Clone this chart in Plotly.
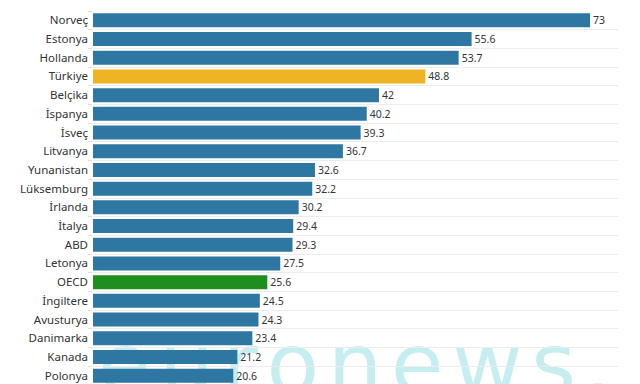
import plotly.graph_objects as go

countries = ["Norveç", "Estonya", "Hollanda", "Türkiye", "Belçika", "İspanya", "İsveç",
             "Litvanya", "Yunanistan", "Lüksemburg", "İrlanda", "İtalya", "ABD", "Letonya",
             "OECD", "İngiltere", "Avusturya", "Danimarka", "Kanada", "Polonya"]
values = [73, 55.6, 53.7, 48.8, 42, 40.2, 39.3, 36.7, 32.6, 32.2, 30.2, 29.4, 29.3, 27.5,
          25.6, 24.5, 24.3, 23.4, 21.2, 20.6]
value_labels = ["73", "55.6", "53.7", "48.8", "42", "40.2", "39.3", "36.7", "32.6", "32.2",
                "30.2", "29.4", "29.3", "27.5", "25.6", "24.5", "24.3", "23.4", "21.2", "20.6"]
watermark = "\u200a".join("euronews.")

BLUE = "#2f77a3"
YELLOW = "#f0b323"
GREEN = "#1e8f1e"
colors = [YELLOW if c == "Türkiye" else GREEN if c == "OECD" else BLUE for c in countries]

fig = go.Figure(go.Bar(
    x=values, y=countries, orientation="h",
    marker=dict(color=colors, line=dict(width=0)),
    text=value_labels, textposition="outside", cliponaxis=False,
    textfont=dict(family="Noto Sans", size=10.5, color="#333333"),
    hoverinfo="skip",
))

fig.update_layout(
    width=640, height=384,
    margin=dict(l=85, r=30, t=3, b=7, autoexpand=False),
    paper_bgcolor="white", plot_bgcolor="rgba(0,0,0,0)",
    bargap=0.25,
    showlegend=False,
    font=dict(family="Noto Sans", size=11, color="#333333"),
    xaxis=dict(range=[0, 77.1], visible=False, fixedrange=True, automargin=False),
    yaxis=dict(autorange="reversed", type="category", tickson="boundaries",
               showgrid=True, gridcolor="#ececec", gridwidth=1,
               ticks="outside", ticklen=4, tickcolor="#dddddd",
               showline=False, zeroline=False, automargin=False,
               tickfont=dict(family="Noto Sans", size=11.5, color="#333333"),
               ticklabelstandoff=4),
    shapes=[dict(type="rect", xref="paper", yref="paper", x0=0.0, x1=0.998, y0=-0.04, y1=0.184,
                 line=dict(width=0), fillcolor="rgba(0,0,0,0)", layer="below",
                 label=dict(text=watermark, textposition="middle center",
                            font=dict(family="DejaVu Sans", size=86,
                                      color="#c6eef0")))],
)

fig.write_html("out.html")
